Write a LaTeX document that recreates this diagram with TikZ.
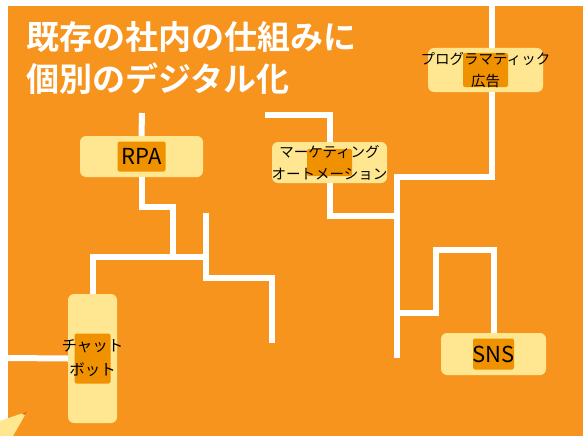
\documentclass[tikz,border=0pt]{standalone}
\usepackage{fontspec}
\newfontfamily\jpfont{Noto Sans CJK JP}[BoldFont={Noto Sans CJK JP Bold}]
\definecolor{bgorange}{RGB}{247,148,30}
\definecolor{boxyellow}{RGB}{255,230,145}
\definecolor{hlorange}{RGB}{240,145,0}
\tikzset{
  wire/.style={draw=white, line width=6pt},
  box/.style={fill=boxyellow, rounded corners=6pt, inner ysep=0pt, inner xsep=-14pt, align=center, font=\jpfont\fontsize{14.5}{22}\selectfont},
  hl/.style 2 args={path picture={\fill[hlorange, rounded corners=2pt] (path picture bounding box.center) +(-#1/2,-#2/2) rectangle +(#1/2,#2/2);}},
  title/.style={text=white, inner sep=0pt, align=left, font=\jpfont\bfseries\fontsize{33}{42}\selectfont}
}
\begin{document}
\begin{tikzpicture}[x=1pt, y=-1pt]
  \useasboundingbox (0,0) rectangle (583,436);
  \fill[white] (0,0) rectangle (583,436);
  \fill[bgorange] (8,6) rectangle (583,436);

  % title
  \node[title, anchor=north west] (title) at (26,21) {既存の社内の仕組みに\\個別のデジタル化};

  % tools
  \node[box, hl={48}{30}, minimum width=123pt, minimum height=41pt, font=\jpfont\fontsize{22}{26}\selectfont] (rpa) at (141.5,156.5) {RPA};
  \node[box, hl={36}{50}, minimum width=49pt, minimum height=129pt, font=\jpfont\fontsize{15.5}{24}\selectfont] (chat) at (92.5,358.5) {チャット\\ボット};
  \node[box, hl={45}{27}, minimum width=115pt, minimum height=41pt] (ma) at (329.5,162.5) {マーケティング\\オートメーション};
  \node[box, hl={45}{34}, minimum width=115pt, minimum height=44pt] (prog) at (485.5,70) {プログラマティック\\広告};
  \node[box, hl={41}{31}, minimum width=105pt, minimum height=42pt, font=\jpfont\fontsize{22}{26}\selectfont] (sns) at (493.5,354) {SNS};

  % free ends
  \coordinate (rtop) at (142,113);
  \coordinate (left) at (8,358);
  \coordinate (mtop) at (265,115);
  \coordinate (ptop) at (492,3);
  \coordinate (j1) at (206,257);
  \coordinate (j2) at (397,177);

  % wires
  \draw[wire] (rtop) -- (rpa.north);
  \draw[wire] (rpa.south) -- ++(0,30) -| (173,257);
  \draw[wire] (chat.north) |- (j1);
  \draw[wire] (206,213) -- (206,278) -| (272,343);
  \draw[wire] (left) -- (chat.west);
  \draw[wire] (mtop) -| (ma.north);
  \draw[wire] (ma.south) |- (397,216);
  \draw[wire] (ptop) -- (ptop |- prog.north);
  \draw[wire] (ptop |- prog.south) |- (j2) -- (397,358);
  \draw[wire] (397,313) -| (436,250) -| (sns.north);

  % pencil tip
  \fill[boxyellow] (0,421) -- (23,413) -- (28,411) -- (25,415) -- (13,436) -- (0,436) -- cycle;
  \fill[hlorange!70!red] (28,411) -- (22,413.5) -- (25,415) -- cycle;
\end{tikzpicture}
\end{document}
